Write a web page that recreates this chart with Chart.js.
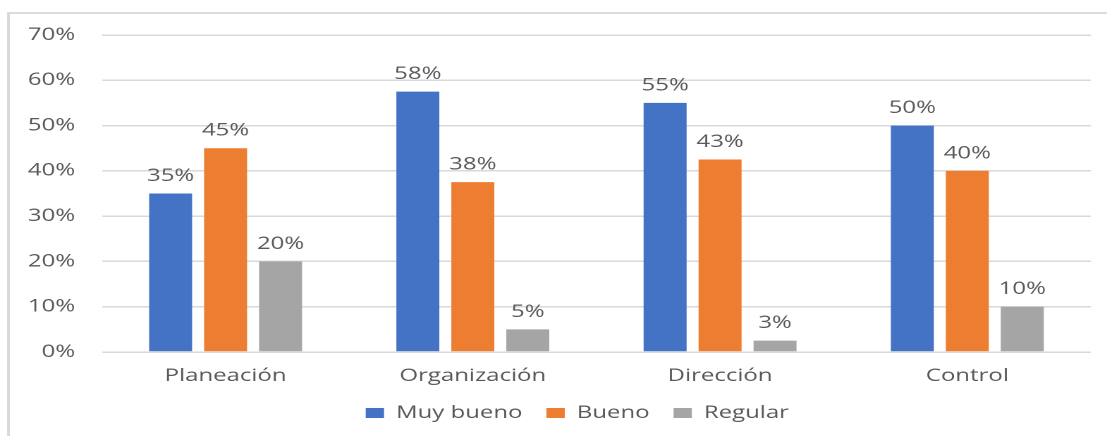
<!DOCTYPE html>
<html>
<head>
<meta charset="utf-8">
<script src="https://cdn.jsdelivr.net/npm/chart.js@4/dist/chart.umd.min.js"></script>
<style>
  html, body { margin: 0; padding: 0; background: #ffffff; overflow: hidden; }
  #frame { position: absolute; left: 7px; top: 12px; right: -4px; bottom: -4px;
           border-left: 3px solid #d9d9d9; border-top: 2px solid #dcdcdc; }
  #wrap { position: absolute; left: 0; top: 0; width: 785px; height: 436px;
          transform: scaleX(1.4102); transform-origin: 0 0; }
  canvas { width: 785px; height: 436px; }
</style>
</head>
<body>
<div id="frame"></div>
<div id="wrap"><canvas id="c" width="785" height="436"></canvas></div>
<script>
// ---- data ----
const categories = ['Planeación', 'Organización', 'Dirección', 'Control'];
const seriesNames = ['Muy bueno', 'Bueno', 'Regular'];
const muyBueno = [35, 57.5, 55, 50];
const bueno = [45, 37.5, 42.5, 40];
const regular = [20, 5, 2.5, 10];
const yTickLabels = ['0%', '10%', '20%', '30%', '40%', '50%', '60%', '70%'];

const colors = ['#4472C4', '#ED7D31', '#A5A5A5'];
const textColor = '#595959';

Chart.defaults.font.family = "'Open Sans', sans-serif";
Chart.defaults.font.size = 17;
Chart.defaults.color = textColor;

const valueLabels = {
  id: 'valueLabels',
  afterDatasetsDraw(chart) {
    const ctx = chart.ctx;
    ctx.save();
    ctx.font = "17px 'Open Sans', sans-serif";
    ctx.fillStyle = textColor;
    ctx.textAlign = 'center';
    ctx.textBaseline = 'alphabetic';
    chart.data.datasets.forEach((ds, i) => {
      const meta = chart.getDatasetMeta(i);
      meta.data.forEach((bar, j) => {
        ctx.fillText(Math.round(ds.data[j]) + '%', bar.x, bar.y - 12.5);
      });
    });
    ctx.restore();
  }
};

const legendShift = {
  id: 'legendShift',
  afterLayout(chart) {
    if (chart.legend) {
      chart.legend.left += 22.6;
      chart.legend.right += 22.6;
    }
  }
};

new Chart(document.getElementById('c'), {
  type: 'bar',
  data: {
    labels: categories,
    datasets: [
      { label: seriesNames[0], data: muyBueno, backgroundColor: colors[0] },
      { label: seriesNames[1], data: bueno, backgroundColor: colors[1] },
      { label: seriesNames[2], data: regular, backgroundColor: colors[2] }
    ]
  },
  options: {
    responsive: false,
    devicePixelRatio: 2,
    animation: false,
    layout: { padding: { left: 0, right: 11.4, top: 35, bottom: 4.5 } },
    datasets: { bar: { categoryPercentage: 0.667, barPercentage: 0.782 } },
    scales: {
      x: {
        grid: { display: false, drawTicks: false },
        border: { display: false },
        ticks: { padding: 14, color: textColor, font: { size: 17 } },
        afterFit(scale) { scale.height = 35.5; }
      },
      y: {
        min: 0, max: 70,
        grid: { color: '#d9d9d9', lineWidth: 1.5, drawTicks: false },
        border: { display: false },
        ticks: {
          stepSize: 10, padding: 19, color: textColor, font: { size: 17 },
          callback: (v, i) => yTickLabels[i]
        },
        afterFit(scale) { scale.width = 72.3; }
      }
    },
    plugins: {
      legend: {
        position: 'bottom',
        labels: { boxWidth: 13, boxHeight: 10, padding: 17, color: textColor, font: { size: 17 } }
      },
      tooltip: { enabled: false }
    }
  },
  plugins: [valueLabels, legendShift]
});
</script>
</body>
</html>
